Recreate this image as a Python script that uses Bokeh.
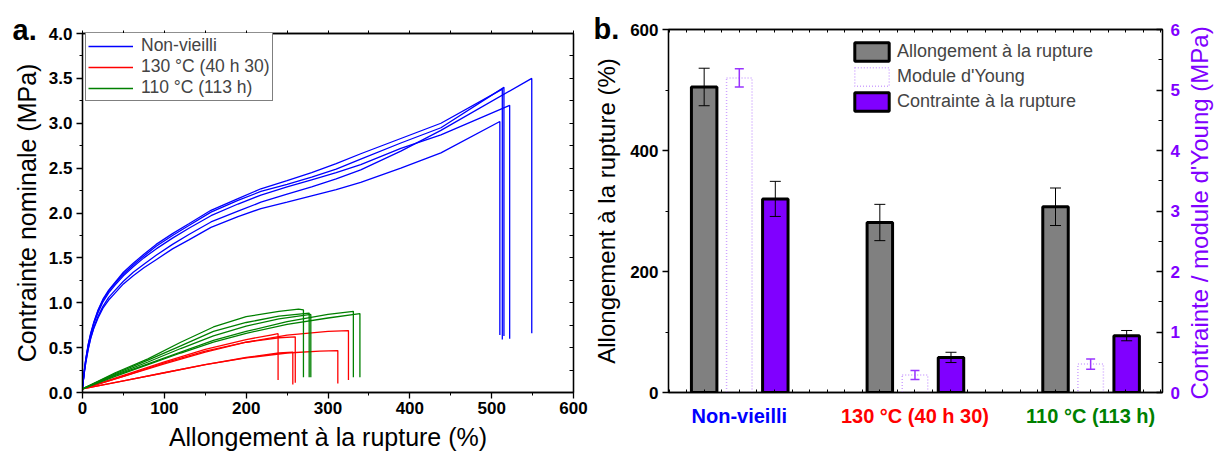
import numpy as np
from bokeh.plotting import figure
from bokeh.models import (Range1d, LinearAxis, SingleIntervalTicker, FixedTicker,
                          PrintfTickFormatter, Legend, LegendItem, Whisker, TeeHead,
                          ColumnDataSource)
from bokeh.layouts import row, column
from bokeh.embed import file_html
from bokeh.resources import INLINE
from bokeh.core.properties import value

FONT = "Liberation Sans"

# ---------------- Panel a : stress-strain curves ----------------
nv_strain = [0, 2, 4, 7, 10, 14, 19, 25, 32, 40, 50, 62, 75, 90, 110, 130, 157, 190, 218,
             250, 280, 310, 340, 389, 438]
nv_stress_1 = [0.05, 0.23, 0.37, 0.54, 0.66, 0.79, 0.92, 1.04, 1.14, 1.23, 1.34, 1.44, 1.54, 1.65,
               1.77, 1.88, 2.03, 2.16, 2.27, 2.36, 2.45, 2.55, 2.66, 2.83, 3.00]
nv_stress_2 = [0.05, 0.23, 0.37, 0.53, 0.65, 0.78, 0.91, 1.03, 1.13, 1.22, 1.32, 1.42, 1.52, 1.63,
               1.75, 1.86, 2.01, 2.14, 2.24, 2.32, 2.40, 2.49, 2.60, 2.78, 2.95]
nv_stress_3 = [0.05, 0.22, 0.36, 0.52, 0.64, 0.77, 0.89, 1.01, 1.11, 1.20, 1.30, 1.40, 1.50, 1.60,
               1.72, 1.83, 1.97, 2.10, 2.20, 2.29, 2.37, 2.45, 2.54, 2.72, 2.87]
nv_stress_4 = [0.05, 0.21, 0.34, 0.49, 0.61, 0.73, 0.85, 0.96, 1.06, 1.14, 1.24, 1.34, 1.43, 1.53,
               1.65, 1.76, 1.90, 2.02, 2.12, 2.21, 2.29, 2.38, 2.48, 2.69, 2.92]
nv_stress_5 = [0.05, 0.21, 0.33, 0.48, 0.60, 0.72, 0.83, 0.94, 1.03, 1.11, 1.21, 1.30, 1.39, 1.48,
               1.60, 1.70, 1.84, 1.96, 2.05, 2.12, 2.19, 2.26, 2.34, 2.50, 2.67]
nv_break_strain = [513, 515, 522, 549, 510]
nv_break_stress = [3.38, 3.40, 3.20, 3.50, 3.02]
nv_final_stress = [0.59, 0.63, 0.60, 0.66, 0.64]

r130_strain = [
    [0, 50, 100, 150, 200, 230, 239],
    [0, 50, 100, 150, 200, 240, 257],
    [0, 50, 100, 150, 200, 240, 260],
    [0, 50, 100, 150, 200, 250, 290, 312],
    [0, 50, 100, 150, 200, 250, 300, 325],
]
r130_stress = [
    [0.04, 0.19, 0.34, 0.48, 0.59, 0.64, 0.655],
    [0.04, 0.13, 0.22, 0.31, 0.39, 0.44, 0.45],
    [0.04, 0.18, 0.33, 0.46, 0.56, 0.61, 0.62],
    [0.04, 0.13, 0.22, 0.31, 0.385, 0.44, 0.46, 0.467],
    [0.04, 0.18, 0.32, 0.45, 0.56, 0.64, 0.68, 0.69],
]
r130_final = [0.14, 0.09, 0.11, 0.10, 0.14]

g110_strain = [
    [0, 40, 80, 120, 160, 200, 240, 264, 270],
    [0, 40, 80, 120, 160, 200, 240, 277],
    [0, 40, 80, 120, 160, 200, 240, 279],
    [0, 40, 80, 120, 160, 200, 250, 300, 331],
    [0, 40, 80, 120, 160, 200, 250, 300, 339],
]
g110_stress = [
    [0.04, 0.22, 0.375, 0.56, 0.73, 0.845, 0.905, 0.93, 0.92],
    [0.04, 0.21, 0.36, 0.52, 0.68, 0.78, 0.85, 0.885],
    [0.04, 0.20, 0.34, 0.49, 0.63, 0.74, 0.82, 0.87],
    [0.04, 0.19, 0.32, 0.45, 0.58, 0.68, 0.79, 0.87, 0.905],
    [0.04, 0.18, 0.31, 0.44, 0.56, 0.66, 0.76, 0.83, 0.88],
]
g110_final = [0.17, 0.17, 0.17, 0.17, 0.17]

series_names = ["Non-vieilli", "130 °C (40 h 30)", "110 °C (113 h)"]
series_colors = ["#0000ff", "#ff0000", "#008000"]

# ---------------- Panel b : bars ----------------
categories = ["Non-vieilli", "130 °C (40 h 30)", "110 °C (113 h)"]
cat_colors = ["#0000ff", "#ff0000", "#008000"]
elong = [505, 281, 307]
elong_err = [31, 30, 31]
young = [5.20, 0.29, 0.47]
young_err = [0.15, 0.075, 0.085]
stress_break = [3.20, 0.58, 0.94]
stress_err = [0.29, 0.085, 0.085]

PURPLE = "#8000ff"
H = 458
TOTAL_W = 1214


def style_axis(ax, size="17px"):
    ax.axis_line_color = "black"
    ax.axis_line_width = 1.3
    ax.major_tick_line_color = "black"
    ax.minor_tick_line_color = "black"
    ax.major_tick_line_width = 1.3
    ax.minor_tick_line_width = 1.0
    ax.major_label_text_font = FONT
    ax.major_label_text_font_style = "bold"
    ax.major_label_text_font_size = size
    ax.major_label_text_color = "black"
    ax.axis_label_text_font = FONT
    ax.axis_label_text_font_style = "normal"
    ax.axis_label_text_font_size = "25px"
    ax.axis_label_text_color = "black"


def style_letter(p, offset):
    t = p.title
    t.align = "left"
    t.offset = offset
    t.standoff = -30
    t.vertical_align = "bottom"
    t.text_font = FONT
    t.text_font_style = "bold"
    t.text_font_size = "29px"
    t.text_color = "black"


# ---------- panel a ----------
PA_W = 590
pa = figure(width=PA_W, height=H, title="a.", x_range=Range1d(0, 600), y_range=Range1d(0, 4),
            output_backend="svg", toolbar_location=None,
            min_border_left=82, min_border_right=17, min_border_top=33,
            min_border_bottom=H - 33 - 359)
style_letter(pa, -70)
pa.xgrid.visible = False
pa.ygrid.visible = False
pa.outline_line_color = "black"
pa.outline_line_width = 1.3
pa.outline_line_alpha = 1.0

lw = 1.3
blue_renderers = []
for i, st in enumerate([nv_stress_1, nv_stress_2, nv_stress_3, nv_stress_4, nv_stress_5]):
    xs = list(nv_strain) + [nv_break_strain[i], nv_break_strain[i]]
    ys = list(st) + [nv_break_stress[i], nv_final_stress[i]]
    blue_renderers.append(pa.line(xs, ys, line_color=series_colors[0], line_width=lw))

red_renderers = []
for i in range(len(r130_strain)):
    xs = list(r130_strain[i]) + [r130_strain[i][-1]]
    ys = list(r130_stress[i]) + [r130_final[i]]
    red_renderers.append(pa.line(xs, ys, line_color=series_colors[1], line_width=lw))

green_renderers = []
for i in range(len(g110_strain)):
    xs = list(g110_strain[i]) + [g110_strain[i][-1]]
    ys = list(g110_stress[i]) + [g110_final[i]]
    green_renderers.append(pa.line(xs, ys, line_color=series_colors[2], line_width=lw))

xa = pa.xaxis[0]
xa.ticker = SingleIntervalTicker(interval=100, num_minor_ticks=2)
style_axis(xa)
xa.major_tick_in = 0
xa.major_tick_out = 6
xa.minor_tick_in = 0
xa.minor_tick_out = 3
xa.major_label_standoff = 3
xa.axis_label = "Allongement à la rupture (%)"
xa.axis_label_standoff = 6

ya = pa.yaxis[0]
ya.ticker = SingleIntervalTicker(interval=0.5, num_minor_ticks=2)
ya.formatter = PrintfTickFormatter(format="%.1f")
style_axis(ya)
ya.major_tick_in = 0
ya.major_tick_out = 6
ya.minor_tick_in = 0
ya.minor_tick_out = 3
ya.major_label_standoff = 4
ya.axis_label = "Contrainte nominale (MPa)"
ya.axis_label_standoff = 5

top_a = LinearAxis(ticker=FixedTicker(ticks=[], minor_ticks=list(range(0, 601, 50))))
style_axis(top_a)
top_a.minor_tick_in = 0
top_a.minor_tick_out = 3
top_a.major_label_standoff = 0
pa.add_layout(top_a, "above")

right_a = LinearAxis(ticker=FixedTicker(ticks=[], minor_ticks=[v * 0.25 for v in range(17)]))
style_axis(right_a)
right_a.minor_tick_in = 4
right_a.minor_tick_out = 0
right_a.major_label_standoff = 0
pa.add_layout(right_a, "right")

legend_a = Legend(items=[LegendItem(label=series_names[0], renderers=[blue_renderers[0]]),
                         LegendItem(label=series_names[1], renderers=[red_renderers[0]]),
                         LegendItem(label=series_names[2], renderers=[green_renderers[0]])],
                  location=(3, 291), orientation="vertical",
                  border_line_color="black", border_line_width=1.2,
                  background_fill_color="white", background_fill_alpha=1.0,
                  label_text_font=FONT, label_text_font_size="17.5px",
                  glyph_width=45, glyph_height=20, label_height=20, label_standoff=8,
                  spacing=0, padding=2, margin=0)
pa.add_layout(legend_a)

# ---------- panel b ----------
PB_RB = 19
PB_W = 78 + 495 + PB_RB
PB_H = 29 + 363 + 12
pb = figure(width=PB_W, height=PB_H, title="b.", x_range=Range1d(0.597, 3.409),
            y_range=Range1d(0, 600), output_backend="svg", toolbar_location=None,
            min_border_left=78, min_border_right=PB_RB, min_border_top=29,
            min_border_bottom=12)
style_letter(pb, -75)
pb.extra_y_ranges = {"right": Range1d(0, 6)}
pb.xgrid.visible = False
pb.ygrid.visible = False
pb.outline_line_color = "black"
pb.outline_line_width = 1.3
pb.outline_line_alpha = 1.0

cats_x = np.arange(1, len(categories) + 1, dtype=float)
off = 0.2
bw = 0.145

src_el = ColumnDataSource(dict(x=cats_x - off, top=elong,
                               up=np.array(elong) + np.array(elong_err),
                               lo=np.array(elong) - np.array(elong_err)))
src_yo = ColumnDataSource(dict(x=cats_x, top=young,
                               up=np.array(young) + np.array(young_err),
                               lo=np.array(young) - np.array(young_err)))
src_st = ColumnDataSource(dict(x=cats_x + off + 0.005, top=stress_break,
                               up=np.array(stress_break) + np.array(stress_err),
                               lo=np.array(stress_break) - np.array(stress_err)))

r_el = pb.vbar(x="x", top="top", width=bw, source=src_el, fill_color="#808080",
               line_color="black", line_width=3)
r_yo = pb.vbar(x="x", top="top", width=bw, source=src_yo, fill_color="white", fill_alpha=0.0,
               line_color="#cfa6ff", line_width=1.5, line_dash="1 2", y_range_name="right")
r_st = pb.vbar(x="x", top="top", width=bw, source=src_st, fill_color=PURPLE,
               line_color="black", line_width=3, y_range_name="right")

for src, col, lwid, sz, rng in [(src_el, "black", 1, 11, "default"),
                                (src_yo, "#9933ff", 1.5, 9, "right"),
                                (src_st, "black", 1, 11, "right")]:
    pb.add_layout(Whisker(source=src, base="x", upper="up", lower="lo", dimension="height",
                          line_color=col, line_width=lwid, level="overlay", y_range_name=rng,
                          upper_head=TeeHead(size=sz, line_color=col, line_width=lwid),
                          lower_head=TeeHead(size=sz, line_color=col, line_width=lwid)))

minor_x = [round(v, 1) for v in np.arange(0.6, 3.41, 0.1)]
bx = pb.xaxis[0]
bx.ticker = FixedTicker(ticks=[], minor_ticks=minor_x)
style_axis(bx)
bx.minor_tick_in = 3
bx.minor_tick_out = 0
bx.major_label_standoff = 0

top_b = LinearAxis(ticker=FixedTicker(ticks=[], minor_ticks=minor_x))
style_axis(top_b)
top_b.minor_tick_in = 3
top_b.minor_tick_out = 0
top_b.major_label_standoff = 0
pb.add_layout(top_b, "above")

by = pb.yaxis[0]
by.ticker = SingleIntervalTicker(interval=200, num_minor_ticks=2)
style_axis(by)
by.major_tick_in = 0
by.major_tick_out = 6
by.minor_tick_in = 0
by.minor_tick_out = 3
by.major_label_standoff = 4
by.axis_label = "Allongement à la rupture (%)"
by.axis_label_text_font_size = "24px"
by.axis_label_standoff = 7

ry = LinearAxis(y_range_name="right", ticker=SingleIntervalTicker(interval=1, num_minor_ticks=2))
style_axis(ry)
ry.major_label_text_color = PURPLE
ry.major_tick_in = 6
ry.major_tick_out = 0
ry.minor_tick_in = 4
ry.minor_tick_out = 0
ry.major_label_standoff = 8
pb.add_layout(ry, "right")

legend_b = Legend(items=[LegendItem(label="Allongement à la rupture", renderers=[r_el]),
                         LegendItem(label="Module d'Young", renderers=[r_yo]),
                         LegendItem(label="Contrainte à la rupture", renderers=[r_st])],
                  location=(182, 279), orientation="vertical",
                  border_line_alpha=0, background_fill_alpha=0,
                  label_text_font=FONT, label_text_font_size="18px",
                  glyph_width=43, glyph_height=23, label_height=23, label_standoff=4,
                  spacing=2, padding=0, margin=0)
pb.add_layout(legend_b)

# ---------- category labels strip below panel b ----------
CAT_H = H - PB_H
fcat = figure(width=PB_W, height=CAT_H, title=None, x_range=pb.x_range,
              y_range=Range1d(0, CAT_H), x_axis_location=None, y_axis_location=None,
              output_backend="svg", toolbar_location=None,
              min_border_left=78, min_border_right=PB_RB,
              min_border_top=0, min_border_bottom=0)
fcat.grid.visible = False
fcat.outline_line_color = None
src_cat = ColumnDataSource(dict(x=cats_x, y=[CAT_H - (415 - PB_H)] * len(categories),
                                text=categories, color=cat_colors))
fcat.text(x="x", y="y", text="text", text_color="color", source=src_cat,
          text_font=value(FONT), text_font_style="bold", text_font_size="20px",
          text_align="center", text_baseline="middle")

# ---------- right strip carrying the right-axis title (as a left axis label) ----------
FRT_W = TOTAL_W - PA_W - PB_W
frt = figure(width=FRT_W, height=H, title=None, x_range=Range1d(0, 1), y_range=Range1d(0, 6),
             x_axis_location=None, y_axis_location="left",
             output_backend="svg", toolbar_location=None,
             min_border_left=0, min_border_right=0, min_border_top=29,
             min_border_bottom=H - 29 - 363)
frt.grid.visible = False
frt.outline_line_color = None
fy = frt.yaxis[0]
fy.ticker = FixedTicker(ticks=[])
fy.axis_line_color = None
fy.major_tick_in = 0
fy.major_tick_out = 0
fy.minor_tick_in = 0
fy.minor_tick_out = 0
fy.major_label_standoff = 0
fy.axis_label = "Contrainte / module d'Young (MPa)"
fy.axis_label_text_font = FONT
fy.axis_label_text_font_style = "normal"
fy.axis_label_text_font_size = "24px"
fy.axis_label_text_color = PURPLE
fy.axis_label_standoff = 0

layout = row(pa, column(pb, fcat), frt)
open("out.html", "w").write(file_html(layout, INLINE))
